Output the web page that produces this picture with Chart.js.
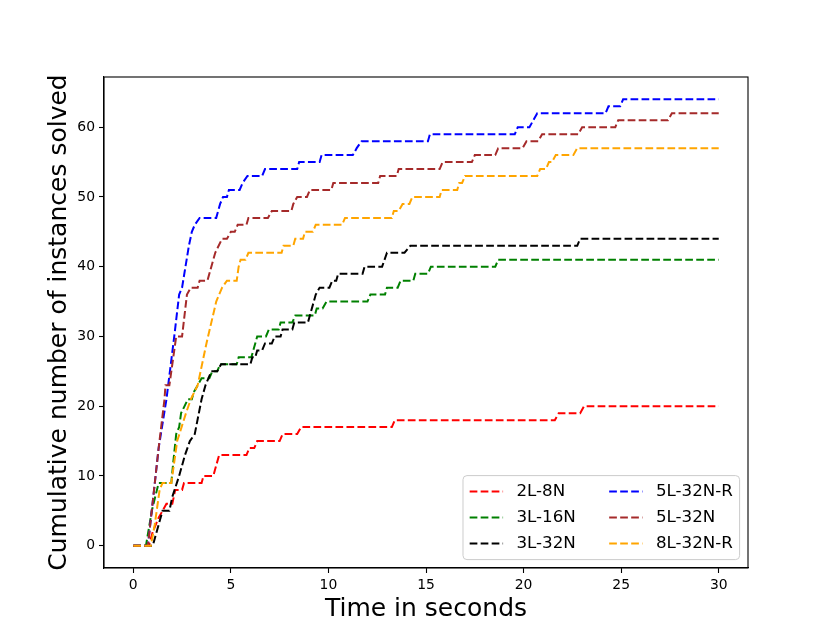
<!DOCTYPE html>
<html>
<head>
<meta charset="utf-8">
<script src="https://cdn.jsdelivr.net/npm/chart.js@4.4.0/dist/chart.umd.min.js"></script>
<style>
  html, body { margin: 0; padding: 0; background: #fff; }
  #wrap { width: 831px; height: 639px; position: relative; }
</style>
</head>
<body>
<div id="wrap"><canvas id="solved"></canvas></div>
<script>
// series names + colours (legend order)
const names = ["2L-8N", "3L-16N", "3L-32N", "5L-32N-R", "5L-32N", "8L-32N-R"];
const colors = ["red", "green", "black", "blue", "brown", "orange"];

// [time in s, cumulative solved]
const run2L8N = [[0,0],[0.8,0],[1.0,2],[1.3,4],[1.7,6],[2.0,6],[2.15,8],[2.5,8],[2.6,9],[3.5,9],[3.6,10],[4.1,10],
  [4.4,13],[5.8,13],[5.95,14],[6.2,14],[6.35,15],[7.5,15],[7.65,16],[8.4,16],[8.6,17],[13.25,17],[13.4,18],
  [21.6,18],[21.8,19],[22.9,19],[23.1,20],[30,20]];
const run3L16N = [[0,0],[0.65,0],[0.95,5],[1.3,9],[1.95,9],[2.05,12],[2.2,16],[2.35,17],[2.45,19],[2.8,21],[3.0,21],
  [3.1,22],[3.5,24],[3.9,24],[4.05,25],[4.3,25],[4.45,26],[5.3,26],[5.4,27],[6.05,27],[6.35,30],[6.8,30],[6.95,31],
  [7.45,31],[7.55,32],[8.15,32],[8.3,33],[9.3,33],[9.4,34],[9.7,34],[9.9,35],[12.0,35],[12.15,36],[12.9,36],
  [13.0,37],[13.55,37],[13.7,38],[14.35,38],[14.45,39],[15.1,39],[15.25,40],[18.55,40],[18.7,41],[30,41]];
const run3L32N = [[0,0],[1.0,0],[1.5,5],[1.85,5],[2.0,7],[2.35,10],[2.65,13],[2.9,15],[3.15,16],[3.5,21],[3.7,23],
  [3.85,24],[4.0,25],[4.3,25],[4.5,26],[6.0,26],[6.1,27],[6.25,27],[6.35,28],[6.6,28],[6.75,29],[7.1,29],[7.25,30],
  [7.55,30],[7.65,31],[8.15,31],[8.25,32],[8.95,32],[9.05,33],[9.35,36],[9.55,37],[10.05,37],[10.2,38],[10.4,38],
  [10.5,39],[11.75,39],[11.85,40],[12.75,40],[13.0,42],[13.9,42],[14.2,43],[22.75,43],[22.9,44],[30,44]];
const run5L32NR = [[0,0],[0.75,0],[1.3,14],[1.7,21],[2.1,30],[2.35,36],[2.5,37],[2.85,43],[3.0,45],[3.15,46],[3.4,47],
  [4.25,47],[4.45,49],[4.6,50],[4.8,50],[4.9,51],[5.45,51],[5.6,52],[5.85,53],[6.6,53],[6.75,54],[8.4,54],[8.5,55],
  [9.55,55],[9.65,56],[11.25,56],[11.45,57],[11.7,58],[15.1,58],[15.2,59],[19.55,59],[19.7,60],[20.3,60],[20.5,61],
  [20.7,62],[24.2,62],[24.35,63],[24.95,63],[25.1,64],[30,64]];
const run5L32N = [[0,0],[0.75,0],[1.3,14],[1.6,21],[1.65,23],[1.85,23],[2.2,30],[2.5,30],[2.75,36],[2.95,37],[3.3,37],
  [3.4,38],[3.8,38],[4.2,42],[4.55,44],[4.8,44],[5.0,45],[5.2,45],[5.35,46],[5.8,46],[5.9,47],[6.9,47],[7.1,48],
  [8.1,48],[8.2,49],[8.4,50],[8.9,50],[9.05,51],[10.15,51],[10.25,52],[12.55,52],[12.65,53],[13.5,53],[13.6,54],
  [15.7,54],[15.85,55],[17.35,55],[17.5,56],[18.55,56],[18.7,57],[19.95,57],[20.15,58],[20.75,58],[20.95,59],
  [22.8,59],[23.0,60],[24.7,60],[24.85,61],[27.4,61],[27.6,62],[30,62]];
const run8L32NR = [[0,0],[0.9,0],[1.1,3],[1.35,8],[1.5,9],[1.95,9],[2.25,15],[2.7,19],[2.95,21],[3.3,23],[3.75,29],
  [4.25,35],[4.55,37],[4.8,38],[5.3,38],[5.4,40],[5.5,41],[5.75,41],[5.9,42],[7.6,42],[7.7,43],[8.2,43],[8.3,44],
  [8.7,44],[8.8,45],[9.2,45],[9.35,46],[10.7,46],[10.85,47],[13.25,47],[13.35,48],[13.6,48],[13.8,49],[14.15,49],
  [14.3,50],[15.7,50],[15.8,51],[16.6,51],[16.7,52],[16.85,52],[17.0,53],[20.7,53],[20.85,54],[21.15,54],[21.3,55],
  [21.45,55],[21.65,56],[22.55,56],[22.75,57],[30,57]];

const xTicks = [0, 5, 10, 15, 20, 25, 30];
const yTicks = [0, 10, 20, 30, 40, 50, 60];

const runs = [run2L8N, run3L16N, run3L32N, run5L32NR, run5L32N, run8L32NR];
const dash = [7.7, 3.3];
const FONT = "DejaVu Sans";

// matplotlib style frame around the axes
const frame = {
  id: "frame",
  afterDatasetsDraw(chart) {
    const a = chart.chartArea, ctx = chart.ctx;
    ctx.save();
    ctx.strokeStyle = "#000";
    ctx.lineWidth = 1.1;
    ctx.strokeRect(a.left, a.top, a.right - a.left, a.bottom - a.top);
    ctx.restore();
  }
};

// legend inside lower right, two columns
const innerLegend = {
  id: "innerLegend",
  afterDraw(chart) {
    const ctx = chart.ctx, a = chart.chartArea;
    const fs = 16.7;
    ctx.save();
    ctx.font = fs + "px '" + FONT + "'";
    const sets = chart.data.datasets;
    const rows = 3;
    const colW = [0, 0];
    sets.forEach((d, i) => {
      const c = Math.floor(i / rows);
      colW[c] = Math.max(colW[c], ctx.measureText(d.label).width);
    });
    const pad = 0.4 * fs, hl = 2 * fs, htp = 0.8 * fs, cs = 2 * fs, rowH = 26;
    const w = pad + hl + htp + colW[0] + cs + hl + htp + colW[1] + pad;
    const h = 84;
    const right = a.right - 8.4, bottom = a.bottom - 8.4;
    const left = right - w, top = bottom - h;
    ctx.beginPath();
    ctx.roundRect(left, top, w, h, 4);
    ctx.fillStyle = "rgba(255,255,255,0.8)";
    ctx.fill();
    ctx.strokeStyle = "#cccccc";
    ctx.lineWidth = 1;
    ctx.stroke();
    sets.forEach((d, i) => {
      const c = Math.floor(i / rows), r = i % rows;
      const x0 = left + pad + (c ? hl + htp + colW[0] + cs : 0);
      const y = top + 16 + r * rowH;
      ctx.beginPath();
      ctx.setLineDash(dash);
      ctx.strokeStyle = d.borderColor;
      ctx.lineWidth = 2;
      ctx.moveTo(x0, y);
      ctx.lineTo(x0 + hl, y);
      ctx.stroke();
      ctx.setLineDash([]);
      ctx.fillStyle = "#000";
      ctx.textBaseline = "middle";
      ctx.textAlign = "left";
      ctx.fillText(d.label, x0 + hl + htp, y);
    });
    ctx.restore();
  }
};

new Chart(document.getElementById("solved"), {
  type: "line",
  data: {
    datasets: runs.map((run, i) => ({
      label: names[i],
      data: run.map(p => ({ x: p[0], y: p[1] })),
      borderColor: colors[i],
      borderWidth: 2,
      borderDash: dash,
      pointRadius: 0,
      fill: false,
      tension: 0,
      order: runs.length - i
    }))
  },
  options: {
    responsive: true,
    maintainAspectRatio: false,
    devicePixelRatio: 1,
    animation: false,
    layout: { padding: { left: 0, top: 77, right: 83, bottom: 0 } },
    plugins: { legend: { display: false }, tooltip: { enabled: false } },
    scales: {
      x: {
        type: "linear",
        min: -1.5,
        max: 31.5,
        afterBuildTicks: s => { s.ticks = xTicks.map(v => ({ value: v })); },
        afterFit: s => { s.height = 71; },
        ticks: { color: "#000", font: { family: FONT, size: 13.9 }, padding: 4, maxRotation: 0, autoSkip: false },
        grid: { drawOnChartArea: false, drawTicks: true, tickLength: 5, color: "#000", tickWidth: 1.1 },
        border: { display: true, color: "#000", width: 1.1 },
        title: { display: true, text: "Time in seconds", color: "#000",
                 font: { family: FONT, size: 25 }, padding: { top: 0, bottom: 14.5 } }
      },
      y: {
        type: "linear",
        min: -3.2,
        max: 67.2,
        afterBuildTicks: s => { s.ticks = yTicks.map(v => ({ value: v })); },
        afterFit: s => { s.width = 104; },
        ticks: { color: "#000", font: { family: FONT, size: 13.9 }, padding: 4, autoSkip: false },
        grid: { drawOnChartArea: false, drawTicks: true, tickLength: 5, color: "#000", tickWidth: 1.1 },
        border: { display: true, color: "#000", width: 1.1 },
        title: { display: true, text: "Cumulative number of instances solved", color: "#000",
                 font: { family: FONT, size: 25 }, padding: { top: 44, bottom: 0 } }
      }
    }
  },
  plugins: [frame, innerLegend]
});
</script>
</body>
</html>
